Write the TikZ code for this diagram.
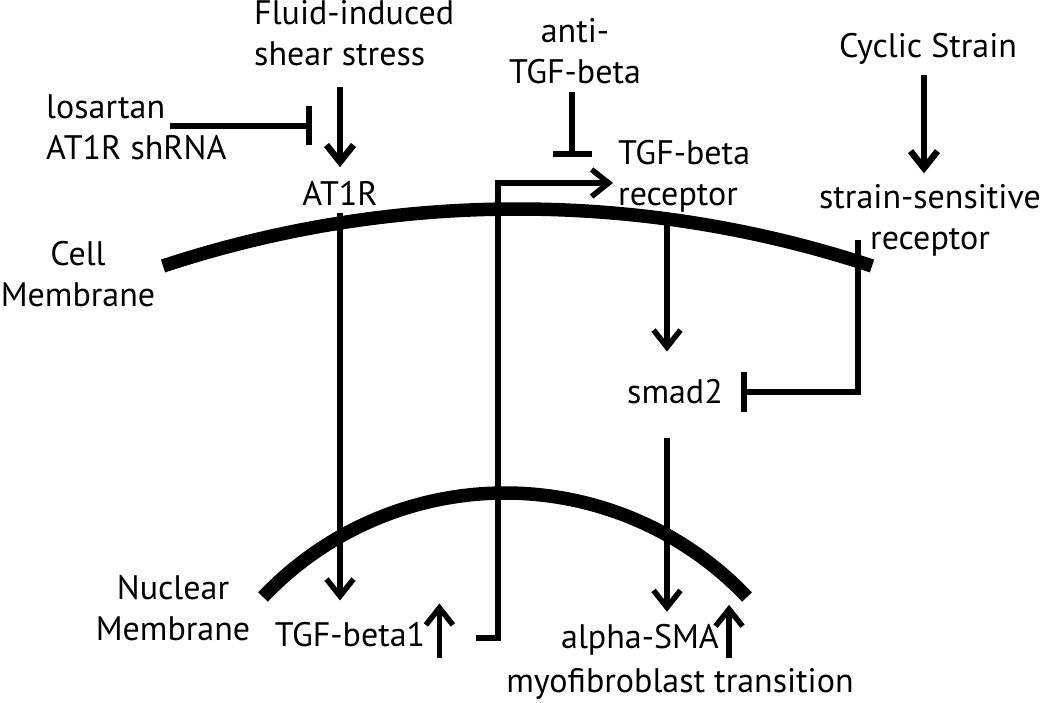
\documentclass[tikz,border=0pt]{standalone}
\usepackage{fontspec}
\setmainfont{PT Sans}
\usetikzlibrary{arrows.meta}
\newcommand{\figfont}{\fontsize{34}{41}\selectfont}
\tikzset{
  tag/.style={
    font=\figfont, inner sep=0pt, align=center
  },
  tagl/.style={tag, align=left},
  act/.style={-{Straight Barb[length=17pt,width=27pt]}, line width=5.5pt},
  heavy/.style={line width=6.5pt},
  inh/.style={-{Bar[width=39pt]}, line width=6pt},
  membrane/.style={line width=13.5pt}
}

\begin{document}
\begin{tikzpicture}[x=1pt, y=-1pt]
  \useasboundingbox (0,0) rectangle (1050,703);

  % Membranes
  \draw[membrane] (163,266) arc[start angle=-108.27, end angle=-71.73, radius=1130.9];
  \draw[membrane] (263,597) arc[start angle=-136.51, end angle=-43.49, radius=333.56];

  % Stimuli
  \node[tagl, anchor=west] (shear) at (254,33.5) {Fluid-induced\\shear stress};
  \node[tagl, anchor=west] (los) at (46,127) {losartan\\AT1R shRNA};
  \node[tag] (anti) at (575,51) {anti-\\TGF-beta};
  \node[tag] (cyc) at (928,48.5) {Cyclic Strain};

  % Receptors
  \node[tag] (at1r) at (340,193.5) {AT1R};
  \node[tagl, anchor=west] (tgfr) at (618,176.5) {TGF-beta\\receptor};
  \node[tag] (strain) at (930,220.5) {strain-sensitive\\receptor};

  % Compartments
  \node[tag] (cell) at (78,274) {Cell\\Membrane};
  \node[tag] (nuc) at (173,608) {Nuclear\\Membrane};

  % Inside the cell
  \node[tag] (smad) at (675,392) {smad2};
  \node[tag] (tgfb1) at (350,635) {TGF-beta1};
  \node[tag] (alpha) at (640,639.5) {alpha-SMA};
  \node[tag] (myo) at (680,683.5) {myofibroblast transition};

  % Stimuli to receptors
  \draw[act, heavy, shorten <=21pt, shorten >=14pt] (shear.south -| at1r.north) -- (at1r.north);
  \coordinate (losend) at (312,126);
  \draw[inh] ([xshift=124pt]los.west |- losend) -- (losend);
  \coordinate (antiend) at (572,157);
  \draw[inh, shorten <=8pt] (anti.south -| antiend) -- (antiend);
  \draw[act, heavy, shorten <=11pt, shorten >=11pt] ([xshift=-4pt]cyc.south) -- ([xshift=-4pt]cyc.south |- strain.north);

  % Signalling
  \draw[act, shorten <=7pt, shorten >=22pt] (at1r.south) -- (at1r.south |- tgfb1.north);
  \coordinate (loopup) at (498,183);
  \draw[act, shorten >=5pt] ([shift={(51,3)}]tgfb1.east) -| (loopup) -- (tgfr.west |- loopup);
  \draw[act, shorten >=28pt] ([xshift=-8pt]smad.north |- tgfr.south) -- ([xshift=-8pt]smad.north);
  \draw[act, shorten <=33pt, shorten >=12pt] ([xshift=-8pt]smad.south) -- ([xshift=-8pt]smad.south |- alpha.north);
  \coordinate (strainout) at (858,240);
  \draw[act, -{Bar[width=39pt,line width=6pt]}] (strainout) |- ([xshift=18pt]smad.east);

  % Up-regulation
  \draw[act] ([shift={(14,10)}]tgfb1.south east) -- ([shift={(14,-19)}]tgfb1.north east);
  \draw[act] ([shift={(10,3)}]alpha.south east) -- ([shift={(10,-19)}]alpha.north east);

\end{tikzpicture}
\end{document}
